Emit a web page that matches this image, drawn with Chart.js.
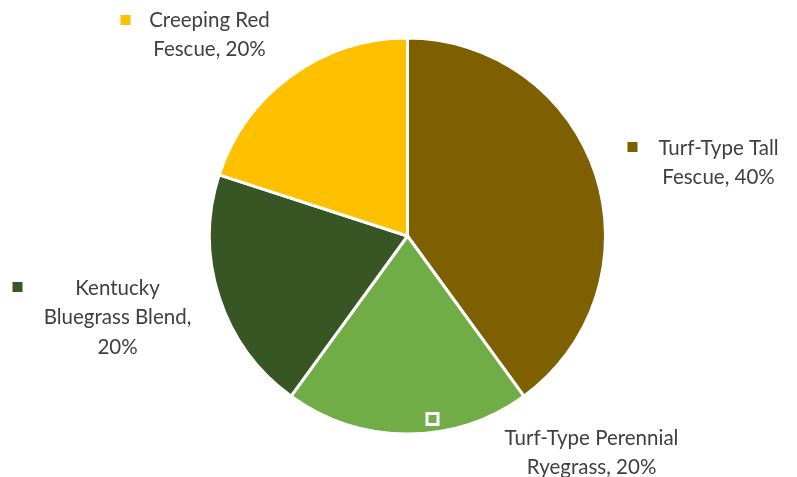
<!DOCTYPE html>
<html>
<head>
<meta charset="utf-8">
<script src="https://cdn.jsdelivr.net/npm/chart.js@4/dist/chart.umd.min.js"></script>
<style>
  html, body { margin: 0; padding: 0; background: #fff; }
  #wrap { width: 797px; height: 477px; }
</style>
</head>
<body>
<div id="wrap"><canvas id="myChart" width="797" height="477"></canvas></div>
<script>
const categories = ['Turf-Type Tall Fescue', 'Turf-Type Perennial Ryegrass', 'Kentucky Bluegrass Blend', 'Creeping Red Fescue'];
const shares = [40, 20, 20, 20];
const labelLines = [
  ['Turf-Type Tall', 'Fescue, 40%'],
  ['Turf-Type Perennial', 'Ryegrass, 20%'],
  ['Kentucky', 'Bluegrass Blend,', '20%'],
  ['Creeping Red', 'Fescue, 20%']
];
const sliceColors = ['#7F6000', '#70AD47', '#375623', '#FFC000'];

// label placement relative to pie centre: first text line centre, key position
const labelStyle = [
  { tx: 311, ty: -88, kx: 225, ky: -89, boxed: false },
  { tx: 184, ty: 202, kx: 25, ky: 183, boxed: true },
  { tx: -290, ty: 52, kx: -390, ky: 51, boxed: false },
  { tx: -198, ty: -216, kx: -282, ky: -216, boxed: false }
];

const pieLabels = {
  id: 'pieLabels',
  afterDatasetsDraw(chart) {
    const { ctx } = chart;
    const arc = chart.getDatasetMeta(0).data[0];
    const cx = arc.x, cy = arc.y;
    ctx.save();
    ctx.font = '20.5px Lato, sans-serif';
    ctx.textAlign = 'center';
    ctx.textBaseline = 'middle';
    labelLines.forEach((lines, i) => {
      const s = labelStyle[i];
      // legend key
      const kx = cx + s.kx, ky = cy + s.ky;
      if (s.boxed) {
        ctx.fillStyle = '#fff';
        ctx.fillRect(kx - 7, ky - 7, 14, 14);
        ctx.fillStyle = sliceColors[i];
        ctx.fillRect(kx - 4, ky - 4, 8, 8);
      } else {
        ctx.fillStyle = sliceColors[i];
        ctx.fillRect(kx - 5, ky - 5, 10, 10);
      }
      ctx.fillStyle = '#404040';
      const lh = 29.5;
      lines.forEach((t, j) => ctx.fillText(t, cx + s.tx, cy + s.ty + j * lh));
    });
    ctx.restore();
  }
};

const data = {
  labels: categories,
  datasets: [{
    data: shares,
    backgroundColor: sliceColors,
    borderColor: '#ffffff',
    borderWidth: 3
  }]
};

const config = {
  type: 'pie',
  data,
  options: {
    responsive: false,
    animation: false,
    layout: { padding: { left: 208, right: 190, top: 36, bottom: 41 } },
    plugins: {
      legend: { display: false },
      tooltip: { enabled: false }
    }
  },
  plugins: [pieLabels]
};

const myChart = new Chart(document.getElementById('myChart'), config);
</script>
</body>
</html>
